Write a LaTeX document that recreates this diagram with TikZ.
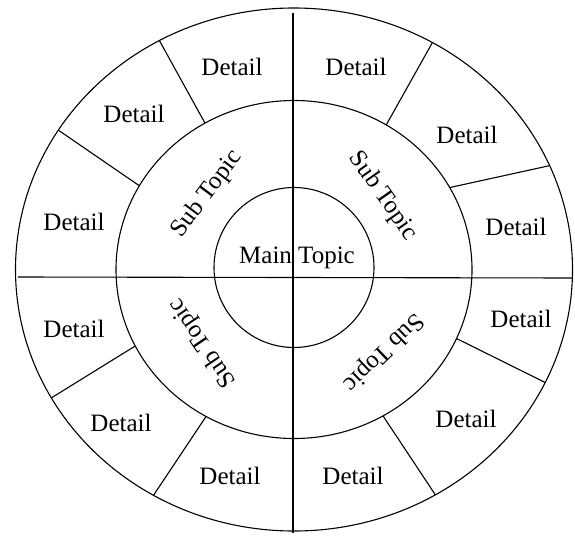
\documentclass[tikz,border=0pt]{standalone}
\usepackage{fontspec}
\setmainfont{Liberation Serif}
\usetikzlibrary{calc}
\tikzset{
  wheelRing/.style={draw, line width=1.1pt},
  wheelLine/.style={line width=1.1pt},
  wheelDetail/.style={font=\fontsize{25}{30}\selectfont, inner sep=0pt},
  wheelSub/.style={font=\fontsize{25}{30}\selectfont, inner sep=0pt},
  wheelMain/.style={font=\fontsize{25}{30}\selectfont, inner sep=0pt}
}

\begin{document}
\begin{tikzpicture}[x=1pt, y=-1pt]
      \useasboundingbox (0,0) rectangle (575,535);
      \coordinate (c) at (294,269.5);
      % rings
      \draw[wheelRing] (c) ellipse [x radius=278.5pt, y radius=261.5pt];
      \draw[wheelRing] (c) ellipse [x radius=178pt, y radius=169pt];
      \draw[wheelRing] (294,267.5) circle [radius=80pt];
      % axes
      \coordinate (axisTop) at (293,13);
      \coordinate (axisBottom) at (293,533);
      \coordinate (axisLeft) at (18,277);
      \coordinate (axisRight) at (573,278);
      \draw[wheelLine] (axisTop) -- (axisBottom);
      \draw[wheelLine] (axisLeft) -- (axisRight);
      % dividers of the detail ring
      \foreach \ti/\to in {120/118.9, 150.3/147.8, 58.8/60.2, 29/23.4,
                           -24.1/-25.6, -60/-59.5, 206.9/209.4, 240.4/239.7}
        \draw[wheelLine] ($(c)+(\ti:178pt and 169pt)$) -- ($(c)+(\to:278.5pt and 261.5pt)$);
      % texts
      \node[wheelMain] (main) at (297,258) {Main Topic};
      \node[wheelSub, rotate=53] (subNW) at (207,194) {Sub Topic};
      \node[wheelSub, rotate=-55] (subNE) at (383,196) {Sub Topic};
      \node[wheelSub, rotate=224] (subSE) at (383,352) {Sub Topic};
      \node[wheelSub, rotate=124] (subSW) at (203,343) {Sub Topic};
      \node[wheelDetail] (detailA) at (232,67) {Detail};
      \node[wheelDetail] (detailB) at (356,67) {Detail};
      \node[wheelDetail] (detailC) at (134,114) {Detail};
      \node[wheelDetail] (detailD) at (467,135) {Detail};
      \node[wheelDetail] (detailE) at (74,222) {Detail};
      \node[wheelDetail] (detailF) at (516,227) {Detail};
      \node[wheelDetail] (detailG) at (74,329) {Detail};
      \node[wheelDetail] (detailH) at (521,319) {Detail};
      \node[wheelDetail] (detailI) at (121,423) {Detail};
      \node[wheelDetail] (detailJ) at (466,419) {Detail};
      \node[wheelDetail] (detailK) at (230,476) {Detail};
      \node[wheelDetail] (detailL) at (353,476) {Detail};
    \end{tikzpicture}
\end{document}
